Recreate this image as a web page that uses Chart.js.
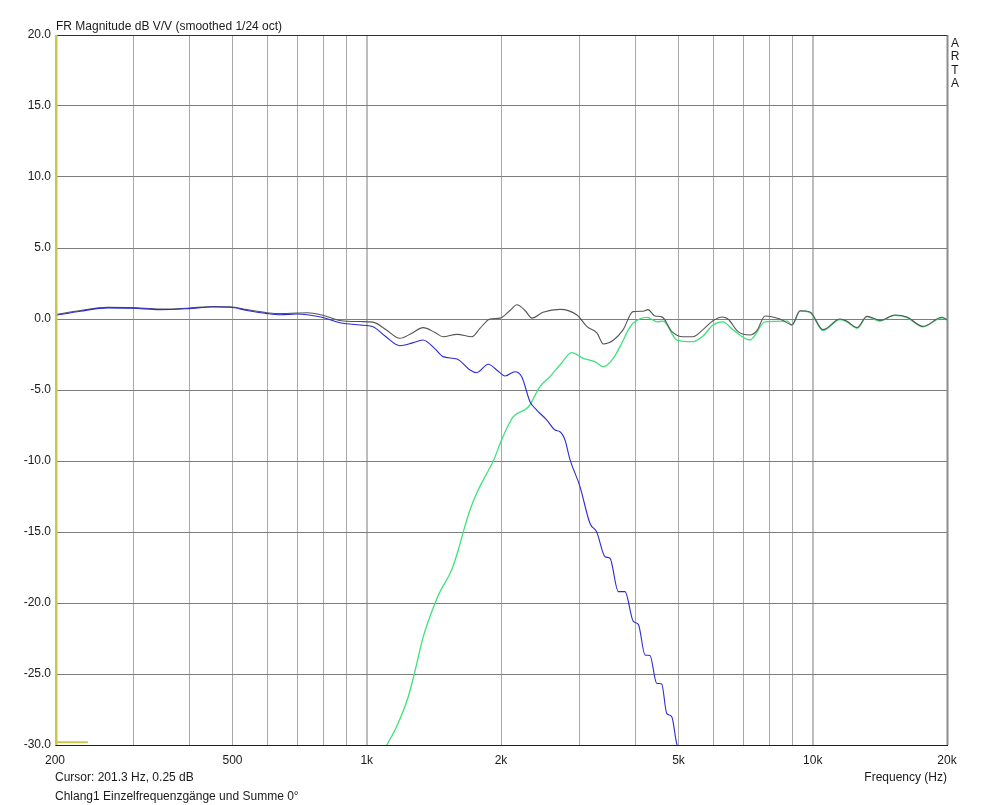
<!DOCTYPE html>
<html>
<head>
<meta charset="utf-8">
<script src="https://cdn.jsdelivr.net/npm/chart.js@4.4.1/dist/chart.umd.min.js"></script>
<style>
html,body{margin:0;padding:0;background:#fff;}
#wrap{position:relative;width:1000px;height:805px;}
</style>
</head>
<body>
<div id="wrap"><canvas id="c" width="1000" height="805"></canvas></div>
<script>
// ---- texts ----
const TITLE = "FR Magnitude dB V/V (smoothed 1/24 oct)";
const CURSOR_TEXT = "Cursor: 201.3 Hz, 0.25 dB";
const FOOTNOTE = "Chlang1 Einzelfrequenzgänge und Summe 0°";
const X_TITLE = "Frequency (Hz)";
const BRAND = "ARTA";

// ---- axes ----
const xGridValues = [200,300,400,500,600,700,800,900,1000,2000,3000,4000,5000,6000,7000,8000,9000,10000,20000];
const xLabelValues = [200,500,1000,2000,5000,10000,20000];
const xLabelTexts = ["200","500","1k","2k","5k","10k","20k"];
const yMin = -30, yMax = 20, yStep = 5;

// ---- cursor ----
const cursorFreq = [201.3, 201.3];
const cursorDb = [20, -30];
const cursorMarkFreq = [200, 237];
const cursorMarkDb = [-29.8, -29.8];

// ---- Summe (sum, dark gray) ----
const sumFreq = [200,228,262,299,344,397,452,494,539,598,639,698,735,798,871,966,1033,1099,1187,1263,1337,1423,1482,1594,1722,1794,1890,1990,2095,2172,2264,2347,2484,2712,2961,3118,3284,3392,3571,3755,3954,4163,4272,4429,4591,4835,5117,5389,5675,5976,6260,6457,6800,7235,7501,7817,8445,8984,9364,9859,10543,11510,11934,12567,13233,14146,15285,16263,17671,19486,20000];
const sumDb   = [0.3,0.6,0.82,0.8,0.7,0.76,0.88,0.86,0.66,0.44,0.38,0.42,0.44,0.26,-0.1,-0.18,-0.22,-0.7,-1.36,-1.0,-0.61,-0.95,-1.25,-1.08,-1.25,-0.66,0.0,0.06,0.6,1.0,0.6,0.06,0.47,0.68,0.28,-0.54,-1.0,-1.76,-1.5,-0.77,0.52,0.55,0.66,0.21,0.15,-0.89,-1.25,-1.25,-0.75,-0.12,0.14,0.0,-0.89,-1.13,-0.8,0.21,0.0,-0.4,0.58,0.5,-0.75,0.0,-0.16,-0.6,0.19,-0.1,0.28,0.14,-0.52,0.12,-0.05];

// ---- Tieftöner (woofer, blue) ----
const wooferFreq = [200,228,262,299,344,397,452,494,539,598,639,698,735,798,871,966,1033,1099,1187,1263,1337,1423,1482,1594,1704,1764,1873,1956,2042,2150,2226,2323,2405,2532,2643,2712,2783,2856,3007,3167,3278,3422,3511,3665,3794,3960,4064,4206,4316,4467,4585,4705,4828,4954,5065];
const wooferDb   = [0.25,0.55,0.78,0.76,0.66,0.73,0.85,0.83,0.6,0.38,0.3,0.35,0.3,0.1,-0.26,-0.42,-0.54,-1.2,-1.88,-1.7,-1.48,-2.1,-2.65,-2.82,-3.59,-3.78,-3.19,-3.59,-4.01,-3.71,-4.06,-5.82,-6.41,-7.1,-7.82,-7.94,-8.52,-9.9,-11.8,-14.4,-15.0,-16.74,-16.85,-19.2,-19.2,-21.3,-21.5,-23.66,-23.7,-25.65,-25.7,-27.77,-28.0,-29.9,-30.6];

// ---- Hochtöner (tweeter, green) ----
const tweeterFreq = [1100,1167,1239,1278,1339,1423,1460,1550,1604,1646,1704,1764,1842,1922,2007,2131,2303,2446,2575,2712,2881,3059,3249,3392,3571,3730,3859,3954,4250,4474,4615,4962,5389,5675,5976,6290,6620,7235,7817,8755,8984,9364,9859,10543,11510,11934,12567,13233,14146,15285,16263,17671,19486,20000];
const tweeterDb   = [-30.2,-28.7,-26.6,-25.0,-22.37,-20.0,-19.2,-17.68,-16.27,-15.0,-13.45,-12.27,-11.1,-10.0,-8.5,-6.88,-6.2,-4.76,-4.06,-3.24,-2.37,-2.77,-3.0,-3.36,-2.77,-1.71,-0.77,-0.3,0.12,-0.2,-0.15,-1.48,-1.6,-1.2,-0.42,-0.2,-0.75,-1.48,-0.2,-0.15,-0.45,0.55,0.45,-0.8,-0.05,-0.2,-0.65,0.15,-0.15,0.25,0.1,-0.55,0.08,-0.08];

function pts(fs, ds){ return fs.map((f,i)=>({x:f,y:ds[i]})); }

const FONT = "'Liberation Sans', Arial, sans-serif";

const decorPlugin = {
  id: 'decor',
  beforeDatasetsDraw(chart){
    const {ctx, chartArea:a} = chart;
    ctx.save();
    ctx.strokeStyle = '#8c8c8c';
    ctx.lineWidth = 2;
    ctx.beginPath(); ctx.moveTo(a.right+0.5, a.top); ctx.lineTo(a.right+0.5, a.bottom); ctx.stroke();
    ctx.strokeStyle = '#303030';
    ctx.lineWidth = 1;
    ctx.beginPath(); ctx.moveTo(a.left, a.top+0.5); ctx.lineTo(a.right, a.top+0.5); ctx.stroke();
    ctx.restore();
  },
  afterDraw(chart){
    const {ctx, chartArea:a} = chart;
    ctx.save();
    ctx.fillStyle = '#1a1a1a';
    ctx.font = '12px ' + FONT;
    ctx.textBaseline = 'alphabetic';
    ctx.textAlign = 'left';
    ctx.fillText(TITLE, a.left + 1, a.top - 5);
    ctx.fillText(CURSOR_TEXT, a.left, a.bottom + 36);
    ctx.fillText(FOOTNOTE, a.left, a.bottom + 55);
    ctx.textAlign = 'right';
    ctx.fillText(X_TITLE, a.right, a.bottom + 36);
    ctx.textAlign = 'center';
    BRAND.split('').forEach((ch,i)=>{ ctx.fillText(ch, a.right + 8, a.top + 12 + i*13.4); });
    ctx.restore();
  }
};

const lineCommon = { pointRadius: 0, cubicInterpolationMode: 'monotone' };

new Chart(document.getElementById('c'), {
  type: 'line',
  data: {
    datasets: [
      { label: 'Cursor', data: pts(cursorFreq, cursorDb), borderColor: '#c9c84a', borderWidth: 2.5, pointRadius: 0, tension: 0, order: -2 },
      { label: 'Cursor mark', data: pts(cursorMarkFreq, cursorMarkDb), borderColor: '#c9c84a', borderWidth: 2, pointRadius: 0, tension: 0, order: -1 },
      Object.assign({ label: 'Tieftöner', data: pts(wooferFreq, wooferDb), borderColor: '#2b2bd4', borderWidth: 1.1, order: 0 }, lineCommon),
      Object.assign({ label: 'Summe', data: pts(sumFreq, sumDb), borderColor: '#555555', borderWidth: 1.1, order: 1 }, lineCommon),
      Object.assign({ label: 'Hochtöner', data: pts(tweeterFreq, tweeterDb), borderColor: '#3ee27c', borderWidth: 1.3, order: 2 }, lineCommon)
    ]
  },
  options: {
    responsive: false,
    animation: false,
    devicePixelRatio: 1,
    layout: { padding: { top: 35, right: 53, bottom: 0, left: 0 } },
    plugins: { legend: { display: false }, tooltip: { enabled: false }, title: { display: false } },
    scales: {
      x: {
        type: 'logarithmic',
        min: 200, max: 20000,
        afterFit(s){ s.height = 60; },
        afterBuildTicks(s){ s.ticks = xGridValues.map(v=>({value:v})); },
        ticks: {
          autoSkip: false, maxRotation: 0, minRotation: 0, padding: 8,
          color: '#1a1a1a', font: { family: FONT, size: 12 },
          callback(v){ const i = xLabelValues.indexOf(v); return i >= 0 ? xLabelTexts[i] : ''; }
        },
        grid: {
          drawTicks: false,
          color(ctx){ const v = ctx.tick && ctx.tick.value; return (v===1000||v===10000) ? '#bdbdbd' : '#a9a9a9'; },
          lineWidth(ctx){ const v = ctx.tick && ctx.tick.value; return (v===1000||v===10000) ? 2 : 1; }
        },
        border: { color: '#202020', width: 1 }
      },
      y: {
        type: 'linear',
        min: yMin, max: yMax,
        afterFit(s){ s.width = 55; },
        ticks: {
          stepSize: yStep, padding: 4,
          color: '#1a1a1a', font: { family: FONT, size: 12 },
          callback(v){ return Number(v).toFixed(1); }
        },
        grid: { drawTicks: false, color: '#7d7d7d', lineWidth: 1 },
        border: { color: '#7d7d7d', width: 1 }
      }
    }
  },
  plugins: [decorPlugin]
});
</script>
</body>
</html>
